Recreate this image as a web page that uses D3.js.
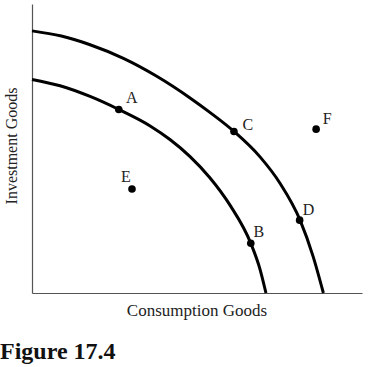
<!DOCTYPE html>
<html>
<head>
<meta charset="utf-8">
<script src="https://cdn.jsdelivr.net/npm/d3@7"></script>
<style>
  body { margin: 0; background: #fff; }
  text { font-family: "Liberation Serif", "DejaVu Serif", serif; fill: #222; }
</style>
</head>
<body>
<div id="chart"></div>
<script>
'use strict';

// curves (consumption, investment)
var innerPPF = [[0, 7.39], [0.85, 7.17], [1.76, 6.80], [2.63, 6.35], [3.58, 5.78], [4.18, 5.31],
                [4.79, 4.72], [5.39, 3.99], [6.00, 3.04], [6.63, 1.72], [6.91, 0.82], [7.09, 0]];
var outerPPF = [[0, 9.07], [0.89, 8.89], [1.76, 8.59], [2.77, 8.12], [3.78, 7.50], [4.79, 6.75],
                [5.39, 6.25], [6.12, 5.59], [6.91, 4.71], [7.52, 3.79], [8.12, 2.53], [8.52, 1.26], [8.83, 0]];
var pointNames = ["A", "B", "C", "D", "E", "F"];
var pointX = [2.63, 6.63, 6.12, 8.11, 3.03, 8.61];
var pointY = [6.35, 1.72, 5.59, 2.52, 3.60, 5.67];
var labelDx = [13, 8, 14, 9, -6, 11];
var labelDy = [-6, -6, -1, -5, -7, -5];

var width = 368, height = 367;
var x = d3.scaleLinear().domain([0, 10]).range([32, 362]);
var y = d3.scaleLinear().domain([0, 10]).range([293, 4]);

var svg = d3.select("#chart").append("svg")
    .attr("width", width)
    .attr("height", height);

// axes, no ticks
svg.append("g")
    .attr("transform", "translate(0," + y(0) + ")")
    .call(d3.axisBottom(x).tickValues([]).tickSizeOuter(0));
svg.append("g")
    .attr("transform", "translate(" + x(0) + ",0)")
    .call(d3.axisLeft(y).tickValues([]).tickSizeOuter(0));
svg.selectAll(".domain").attr("stroke", "#555").attr("stroke-width", 1.2);

var line = d3.line()
    .x(function(d) { return x(d[0]); })
    .y(function(d) { return y(d[1]); })
    .curve(d3.curveMonotoneX);

svg.selectAll("path.ppf")
    .data([innerPPF, outerPPF])
    .enter()
    .append("path")
    .attr("class", "ppf")
    .attr("d", line)
    .attr("fill", "none")
    .attr("stroke", "#000")
    .attr("stroke-width", 3);

svg.selectAll("circle")
    .data(pointNames)
    .enter()
    .append("circle")
    .attr("cx", function(d, i) { return x(pointX[i]); })
    .attr("cy", function(d, i) { return y(pointY[i]); })
    .attr("r", 3.8)
    .attr("fill", "#000");

svg.selectAll("text.pt")
    .data(pointNames)
    .enter()
    .append("text")
    .attr("class", "pt")
    .attr("x", function(d, i) { return x(pointX[i]) + labelDx[i]; })
    .attr("y", function(d, i) { return y(pointY[i]) + labelDy[i]; })
    .attr("text-anchor", "middle")
    .attr("font-size", 16)
    .text(function(d) { return d; });

svg.append("text")
    .attr("x", 197)
    .attr("y", 316)
    .attr("text-anchor", "middle")
    .attr("font-size", 17)
    .text("Consumption Goods");

svg.append("text")
    .attr("transform", "translate(17,146) rotate(-90)")
    .attr("text-anchor", "middle")
    .attr("font-size", 16)
    .text("Investment Goods");

svg.append("text")
    .attr("x", 0)
    .attr("y", 359)
    .attr("font-size", 24)
    .attr("font-weight", "bold")
    .style("fill", "#111")
    .text("Figure 17.4");
</script>
</body>
</html>
